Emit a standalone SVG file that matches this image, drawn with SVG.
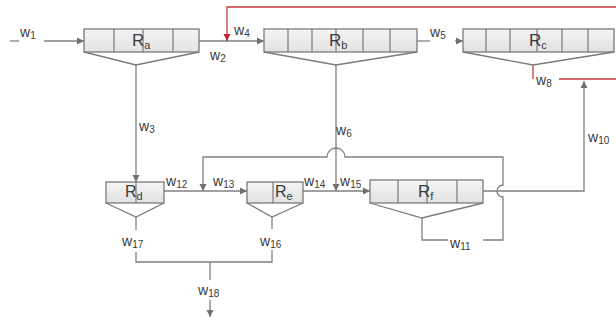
<svg xmlns="http://www.w3.org/2000/svg" width="616" height="320" viewBox="0 0 616 320">
<defs>
<linearGradient id="g" x1="0" y1="0" x2="0" y2="1"><stop offset="0" stop-color="#f5f5f5"/><stop offset="1" stop-color="#e2e2e2"/></linearGradient>
<marker id="a" markerUnits="userSpaceOnUse" markerWidth="8" markerHeight="8" refX="7" refY="4" orient="auto"><path d="M0,0.5 L7,4 L0,7.5 z" fill="#707070"/></marker>
<marker id="ar" markerUnits="userSpaceOnUse" markerWidth="8" markerHeight="8" refX="7" refY="4" orient="auto"><path d="M0,0.5 L7,4 L0,7.5 z" fill="#c0272d"/></marker>
<style>
.box{fill:url(#g);stroke:#7a7a7a;stroke-width:1.3}
.dv{stroke:#7a7a7a;stroke-width:1.2;fill:none}
.fn{fill:none;stroke:#7a7a7a;stroke-width:1.3}
.c{fill:none;stroke:#808080;stroke-width:1.3}
.r{fill:none;stroke:#c0393b;stroke-width:1.3}
text{font-family:"Liberation Sans",Arial,sans-serif;fill:#3a3a3a}
.w{font-size:14px}
.s{font-size:10px}
.R{font-size:17px}
.Rs{font-size:16px}
.rs{font-size:11px}
</style>
</defs>
<g id="connectors">
<line class="c" x1="10" y1="41" x2="19" y2="41"/>
<line class="c" x1="44" y1="41" x2="84" y2="41" marker-end="url(#a)"/>
<line class="c" x1="199" y1="41" x2="264" y2="41" marker-end="url(#a)"/>
<polyline class="r" points="616,7 227,7 227,41" marker-end="url(#ar)"/>
<line class="c" x1="417" y1="41" x2="430" y2="41"/>
<line class="c" x1="455" y1="41" x2="463" y2="41" marker-end="url(#a)"/>
<line class="c" x1="136" y1="65" x2="136" y2="182" marker-end="url(#a)"/>
<line class="c" x1="336" y1="65" x2="336" y2="191" marker-end="url(#a)"/>
<line class="r" x1="533" y1="65" x2="533" y2="79"/>
<line class="r" x1="559" y1="79" x2="616" y2="79"/>
<polyline class="c" points="483,191 584,191 584,81" marker-end="url(#a)"/>
<line class="c" x1="164" y1="191" x2="247" y2="191" marker-end="url(#a)"/>
<polyline class="c" points="422,218 422,240 448,240"/>
<path class="c" d="M483,240 H503 V197 A6,6 0 0 1 503,185 V157 H345 A9,9 0 0 0 327,157 H203 V191" marker-end="url(#a)"/>
<line class="c" x1="303" y1="191" x2="370" y2="191" marker-end="url(#a)"/>
<line class="c" x1="136" y1="217" x2="136" y2="230"/>
<polyline class="c" points="136,252 136,262 272,262 272,250"/>
<line class="c" x1="272" y1="217" x2="272" y2="229"/>
<line class="c" x1="210" y1="262" x2="210" y2="280"/>
<line class="c" x1="210" y1="300" x2="210" y2="317" marker-end="url(#a)"/>
</g>
<g id="Ra">
<rect class="box" x="84" y="29" width="115" height="23"/>
<path class="dv" d="M114,29V52M143,29V52M173,29V52"/>
<polyline class="fn" points="84,52 136,65 199,52"/>
<text x="132" y="46" class="R">R<tspan class="rs" dy="3">a</tspan></text>
</g>
<g id="Rb">
<rect class="box" x="264" y="29" width="153" height="23"/>
<path class="dv" d="M288,29V52M312,29V52M336,29V52M363,29V52M390,29V52"/>
<polyline class="fn" points="264,52 336,65 417,52"/>
<text x="329" y="46" class="R">R<tspan class="rs" dy="3">b</tspan></text>
</g>
<g id="Rc">
<rect class="box" x="463" y="29" width="151" height="23"/>
<path class="dv" d="M486,29V52M510,29V52M537,29V52M562,29V52M588,29V52"/>
<polyline class="fn" points="463,52 533,65 614,52"/>
<text x="529" y="46" class="R">R<tspan class="rs" dy="3">c</tspan></text>
</g>
<g id="Rd">
<rect class="box" x="106" y="182" width="58" height="21"/>
<path class="dv" d="M136,182V203"/>
<polyline class="fn" points="106,203 136,217 164,203"/>
<text x="125" y="197" class="Rs">R<tspan class="rs" dy="3">d</tspan></text>
</g>
<g id="Re">
<rect class="box" x="247" y="182" width="56" height="21"/>
<path class="dv" d="M273,182V203"/>
<polyline class="fn" points="247,203 272,217 303,203"/>
<text x="275" y="197" class="Rs">R<tspan class="rs" dy="3">e</tspan></text>
</g>
<g id="Rf">
<rect class="box" x="370" y="180" width="113" height="23"/>
<path class="dv" d="M398,180V203M427,180V203M457,180V203"/>
<polyline class="fn" points="370,203 422,218 483,203"/>
<text x="418" y="197" class="R">R<tspan class="rs" dy="3">f</tspan></text>
</g>
<g id="labels">
<text x="20" y="37" class="w">w<tspan class="s" dy="2">1</tspan></text>
<text x="210" y="60" class="w">w<tspan class="s" dy="2">2</tspan></text>
<text x="234" y="35" class="w">w<tspan class="s" dy="2">4</tspan></text>
<text x="430" y="37" class="w">w<tspan class="s" dy="2">5</tspan></text>
<text x="139" y="131" class="w">w<tspan class="s" dy="2">3</tspan></text>
<text x="336" y="135" class="w">w<tspan class="s" dy="2">6</tspan></text>
<text x="536" y="85" class="w">w<tspan class="s" dy="2">8</tspan></text>
<text x="588" y="142" class="w">w<tspan class="s" dy="2">10</tspan></text>
<text x="166" y="186" class="w">w<tspan class="s" dy="2">12</tspan></text>
<text x="213" y="186" class="w">w<tspan class="s" dy="2">13</tspan></text>
<text x="304" y="186" class="w">w<tspan class="s" dy="2">14</tspan></text>
<text x="340" y="186" class="w">w<tspan class="s" dy="2">15</tspan></text>
<text x="260" y="246" class="w">w<tspan class="s" dy="2">16</tspan></text>
<text x="122" y="246" class="w">w<tspan class="s" dy="2">17</tspan></text>
<text x="198" y="295" class="w">w<tspan class="s" dy="2">18</tspan></text>
<text x="450" y="248" class="w">w<tspan class="s" dy="2">11</tspan></text>
</g>
</svg>
